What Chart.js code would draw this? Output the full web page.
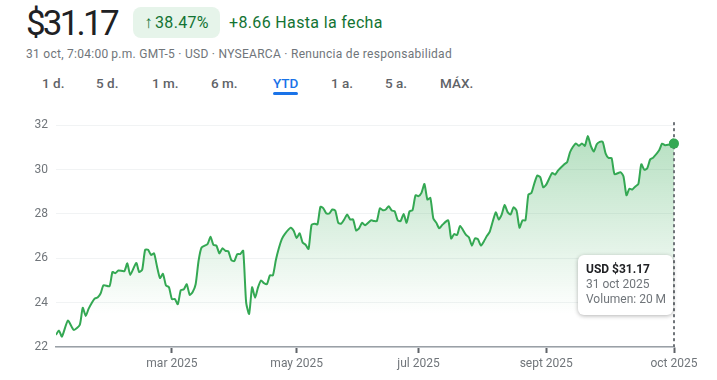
<!DOCTYPE html>
<html lang="es">
<head>
<meta charset="utf-8">
<script src="https://cdn.jsdelivr.net/npm/chart.js@4.4.1/dist/chart.umd.min.js"></script>
<style>
  body { margin: 0; width: 717px; height: 380px; background: #fff; font-family: Roboto, Arial, sans-serif; position: relative; overflow: hidden; }
  .abs { position: absolute; white-space: nowrap; }
  #price { left: 26px; top: 2px; font-size: 35px; line-height: 44px; color: #202124; letter-spacing: -2.8px; }
  #pill { left: 133px; top: 7px; width: 87px; height: 31px; border-radius: 8px; background: #e6f4ea; color: #137333; font-size: 16px; line-height: 31px; text-align: center; letter-spacing: 0.3px; }
  #pill .arr { font-size: 17px; margin-right: 2px; }
  #change { left: 229px; top: 7px; font-size: 16px; line-height: 31px; color: #137333; letter-spacing: 0.35px; }
  #meta { left: 26px; top: 46px; font-size: 12px; line-height: 16px; color: #70757a; letter-spacing: 0.28px; }
  .tab { top: 74px; font-size: 13.5px; line-height: 18px; color: #5f6368; font-weight: 500; }
  .tab.on { color: #1a73e8; }
  #underline { left: 273px; top: 92px; width: 25px; height: 3px; border-radius: 2px; background: #1a73e8; }
  #chartBox { left: 0; top: 110px; width: 717px; height: 270px; }
  #tip { left: 578px; top: 255px; width: 95px; height: 60px; box-sizing: border-box; padding: 7px 8px; background: #fff; border-radius: 6px; box-shadow: 0 1px 4px rgba(0,0,0,0.3); font-size: 12px; line-height: 15px; color: #70757a; }
  #tip b { color: #202124; font-weight: 700; }
</style>
</head>
<body>
<div class="abs" id="price">$31.17</div>
<div class="abs" id="pill"><span class="arr">&#8593;</span>38.47%</div>
<div class="abs" id="change">+8.66 Hasta la fecha</div>
<div class="abs" id="meta">31 oct, 7:04:00&#8201;p.m. GMT-5 · USD · NYSEARCA · Renuncia de responsabilidad</div>
<div class="abs tab" style="left:42px">1 d.</div>
<div class="abs tab" style="left:96px">5 d.</div>
<div class="abs tab" style="left:152px">1 m.</div>
<div class="abs tab" style="left:211px">6 m.</div>
<div class="abs tab on" style="left:273px">YTD</div>
<div class="abs tab" style="left:331px">1 a.</div>
<div class="abs tab" style="left:385px">5 a.</div>
<div class="abs tab" style="left:440px">MÁX.</div>
<div class="abs" id="underline"></div>
<div class="abs" id="chartBox"><canvas id="priceChart"></canvas></div>
<div class="abs" id="tip"><b>USD $31.17</b><br>31 oct 2025<br>Volumen: 20 M</div>

<script>
// trading-day index since 2 Jan 2025
const dayIdx = [0,1,2,4,6,8,9,10,11,13,
    14,15,16,18,19,20,21,23,24,25,
    27,28,29,30,31,32,33,34,35,36,
    37,38,39,40,41,42,43,44,45,46,
    47,48,49,51,52,53,54,55,56,57,
    58,59,60,61,62,63,64,65,66,67,
    68,69,70,71,72,73,74,75,76,77,
    79,80,81,82,83,84,85,86,87,88,
    89,90,91,92,93,94,95,96,97,98,
    99,100,101,102,103,104,106,107,108,109,
    110,111,112,113,114,115,116,117,118,119,
    120,121,122,123,124,125,126,127,128,129,
    130,132,133,134,135,136,138,139,140,141,
    142,143,144,145,146,148,149,150,151,152,
    153,154,155,156,157,158,159,160,161,162,
    163,164,165,167,168,169,171,172,173,174,
    175,176,177,178,179,180,181,182,183,184,
    185,186,187,188,190,191,192,193,194,195,
    196,197,198,199,200,201,203,204,205,207,
    208];

const prices = [22.55,22.74,22.47,23.19,22.77,23.0,23.77,23.4,23.73,24.18,
    24.23,24.41,24.78,24.74,25.38,25.33,25.45,25.42,25.77,25.25,
    25.79,25.38,25.48,26.38,26.38,26.15,26.22,25.63,25.11,25.3,
    24.78,24.7,24.16,24.16,23.93,24.56,24.6,24.83,24.35,24.48,
    24.83,25.9,26.49,26.64,26.97,26.6,26.57,26.22,26.45,26.34,
    26.31,25.92,25.87,26.19,26.19,26.34,24.0,23.49,24.69,24.22,
    24.69,25.0,24.88,24.83,25.23,25.23,25.92,26.45,26.86,27.09,
    27.38,27.24,26.91,27.13,26.71,26.61,26.42,27.5,27.56,27.53,
    28.32,28.25,28.02,28.02,28.2,28.15,27.6,27.56,27.75,27.97,
    27.75,27.75,27.26,27.35,27.6,27.49,27.71,27.68,27.68,28.25,
    28.17,28.2,28.35,28.15,28.12,27.71,27.68,28.0,27.6,28.12,
    28.17,28.84,28.8,28.95,29.35,28.65,28.72,27.79,27.6,27.35,
    27.5,27.71,26.89,27.09,27.05,27.45,27.05,26.94,26.57,26.9,
    26.86,26.57,26.76,27.0,27.2,28.07,27.75,27.97,28.4,28.08,
    27.97,28.3,28.15,27.38,27.71,27.71,28.88,28.94,29.38,29.73,
    29.65,29.2,29.32,29.85,29.77,29.96,30.23,30.33,30.78,31.03,
    31.18,31.07,31.18,31.07,31.51,31.07,30.81,31.14,31.25,31.25,
    30.72,30.52,30.52,29.79,29.88,29.69,28.84,29.14,29.1,29.24,
    29.35,30.24,29.99,30.06,30.46,30.54,30.87,31.17,31.1,31.15,
    31.17];

const tickIdx = [39, 81, 122, 165, 208];
const tickLabels = ['mar 2025', 'may 2025', 'jul 2025', 'sept 2025', 'oct 2025'];
const yTicks = [22, 24, 26, 28, 30, 32];

if (dayIdx.length !== prices.length) {
    console.error('Length mismatch', dayIdx.length, prices.length);
}

const points = dayIdx.map((d, i) => ({ x: d, y: prices[i] }));
const lastIdx = points.length - 1;

// dashed marker line at the last point
const cursorLine = {
    id: 'cursorLine',
    afterDatasetsDraw(chart) {
        const meta = chart.getDatasetMeta(0);
        const pt = meta.data[lastIdx];
        const { ctx, chartArea } = chart;
        ctx.save();
        ctx.strokeStyle = '#70757a';
        ctx.lineWidth = 2;
        ctx.setLineDash([3, 3]);
        ctx.beginPath();
        ctx.moveTo(Math.round(pt.x), chartArea.top - 3);
        ctx.lineTo(Math.round(pt.x), chartArea.bottom);
        ctx.stroke();
        ctx.restore();
        // draw point again on top of the dashes
        pt.draw(ctx);
    }
};

new Chart(document.getElementById('priceChart'), {
    type: 'line',
    data: {
        datasets: [{
            data: points,
            borderColor: '#34a853',
            borderWidth: 2,
            tension: 0.2,
            fill: 'start',
            backgroundColor: (c) => {
                const area = c.chart.chartArea;
                if (!area) return 'rgba(52,168,83,0.2)';
                const g = c.chart.ctx.createLinearGradient(0, area.top, 0, area.bottom);
                g.addColorStop(0, 'rgba(52,168,83,0.38)');
                g.addColorStop(0.85, 'rgba(52,168,83,0.0)');
                g.addColorStop(1, 'rgba(52,168,83,0.0)');
                return g;
            },
            pointRadius: (c) => c.dataIndex === lastIdx ? 5 : 0,
            pointBackgroundColor: '#34a853',
            pointBorderWidth: 0,
            pointHoverRadius: 0
        }]
    },
    options: {
        responsive: true,
        maintainAspectRatio: false,
        animation: false,
        events: [],
        layout: { padding: { top: 13, right: 43, left: 0, bottom: 0 } },
        plugins: {
            legend: { display: false },
            tooltip: { enabled: false }
        },
        scales: {
            x: {
                type: 'linear',
                min: 0,
                max: 208,
                afterBuildTicks: (s) => { s.ticks = tickIdx.map(v => ({ value: v })); },
                afterFit: (s) => { s.height = 33; },
                ticks: {
                    autoSkip: false,
                    maxRotation: 0,
                    padding: 4,
                    color: '#70757a',
                    font: { family: 'Roboto', size: 12 },
                    callback: (v) => tickLabels[tickIdx.indexOf(v)]
                },
                grid: {
                    drawOnChartArea: false,
                    drawTicks: true,
                    tickLength: 6,
                    tickWidth: 2,
                    tickColor: '#5f6368'
                },
                border: { color: '#9aa0a6', width: 1.5 }
            },
            y: {
                min: 22,
                max: 32,
                afterBuildTicks: (s) => { s.ticks = yTicks.map(v => ({ value: v })); },
                afterFit: (s) => { s.width = 56; },
                ticks: {
                    padding: 8,
                    color: '#70757a',
                    font: { family: 'Roboto', size: 12 }
                },
                grid: { color: '#f1f3f4', lineWidth: 1, drawTicks: false },
                border: { display: false }
            }
        }
    },
    plugins: [cursorLine]
});
</script>
</body>
</html>
